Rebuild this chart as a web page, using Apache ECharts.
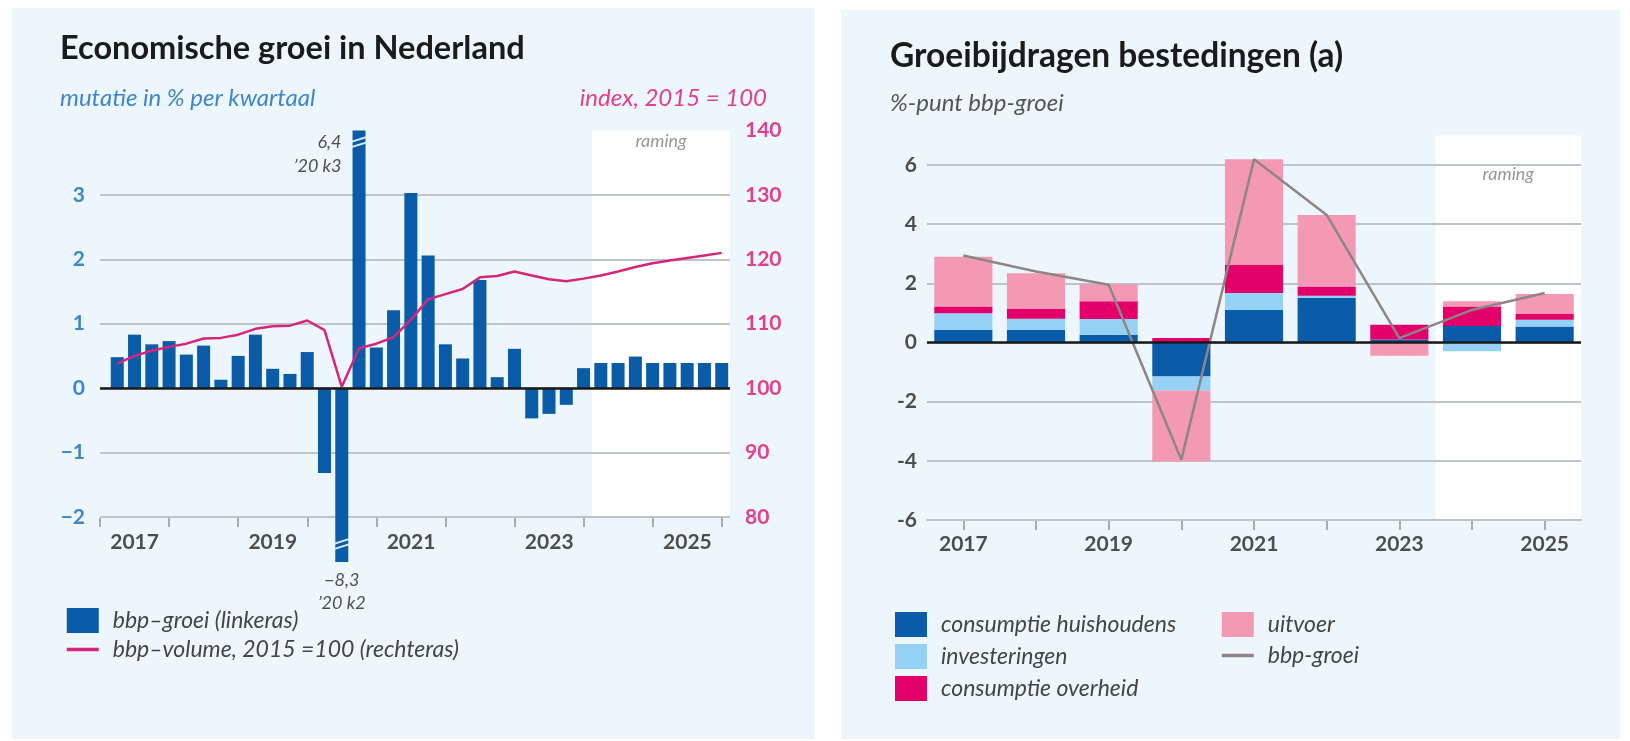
<!DOCTYPE html>
<html>
<head>
<meta charset="utf-8">
<script src="https://cdn.jsdelivr.net/npm/echarts@6/dist/echarts.min.js"></script>
<style>
html,body{margin:0;padding:0;background:#ffffff;}
#wrap{position:relative;width:1630px;height:741px;overflow:hidden;}
.panel{position:absolute;background:#edf6fd;}
#c{position:absolute;left:0;top:0;width:1630px;height:741px;}
</style>
</head>
<body>
<div id="wrap">
  <div class="panel" style="left:12px;top:8px;width:803px;height:731px;"></div>
  <div class="panel" style="left:841px;top:10px;width:779px;height:729px;"></div>
  <div id="c"></div>
</div>
<script>
// ---------- LEFT CHART DATA ----------
const quarters = [
  '2017K1','2017K2','2017K3','2017K4','2018K1','2018K2','2018K3','2018K4',
  '2019K1','2019K2','2019K3','2019K4','2020K1','2020K2','2020K3','2020K4',
  '2021K1','2021K2','2021K3','2021K4','2022K1','2022K2','2022K3','2022K4',
  '2023K1','2023K2','2023K3','2023K4','2024K1','2024K2','2024K3','2024K4',
  '2025K1','2025K2','2025K3','2025K4'
];
// bbp-groei, mutatie in % per kwartaal (linkeras)
const bbpGroei = [
  0.48, 0.83, 0.68, 0.73, 0.52, 0.66, 0.13, 0.50,
  0.83, 0.30, 0.22, 0.56, -1.32, -8.3, 6.4, 0.63,
  1.21, 3.03, 2.06, 0.68, 0.46, 1.68, 0.17, 0.61,
  -0.47, -0.40, -0.26, 0.31, 0.39, 0.39, 0.49, 0.39,
  0.39, 0.39, 0.39, 0.39
];
// bbp-volume, index 2015 = 100 (rechteras)
const bbpVolume = [
  103.8, 105.0, 105.8, 106.4, 106.9, 107.7, 107.8, 108.3,
  109.2, 109.6, 109.7, 110.5, 109.0, 100.2, 106.2, 106.9,
  107.9, 110.6, 113.8, 114.6, 115.4, 117.2, 117.4, 118.1,
  117.5, 116.9, 116.6, 117.0, 117.5, 118.1, 118.8, 119.4,
  119.8, 120.2, 120.6, 121.0
];
const yearLabelsLeft = ['2017','2018','2019','2020','2021','2022','2023','2024','2025'];
const ramingStartLeft = '2024K1';

// ---------- RIGHT CHART DATA ----------
const jaren = ['2017','2018','2019','2020','2021','2022','2023','2024','2025'];
const consumptieHuishoudens = [0.43, 0.43, 0.26, -1.15, 1.10, 1.50, 0.10, 0.56, 0.54];
const investeringen        = [0.56, 0.37, 0.53, -0.47, 0.57, 0.08, 0.00, -0.30, 0.23];
const consumptieOverheid   = [0.23, 0.33, 0.60, 0.15, 0.95, 0.31, 0.50, 0.66, 0.19];
const uitvoer              = [1.68, 1.21, 0.58, -2.40, 3.57, 2.42, -0.45, 0.17, 0.68];
const bbpGroeiJaar         = [2.94, 2.40, 1.95, -3.96, 6.19, 4.31, 0.15, 1.10, 1.67];
const ramingJaren = ['2024', '2025'];

// ---------- helpers ----------
const qpos = q => Number(q.slice(0, 4)) + Number(q.slice(5)) / 4; // quarter-end position in years
const comma = v => v.toFixed(1).replace('.', ',').replace('-', '\u2212');

const FONT = 'Lato';
const GRID_COLOR = '#bcc3ca';
const DARK_BLUE = '#0a5ca9';
const LIGHT_BLUE = '#95d1f5';
const MAGENTA = '#e3006b';
const PINK = '#f499b3';
const LINE_PINK = '#d6267b';
const LINE_GRAY = '#8d8586';

const breakPath = 'path://M0,7 L20,0 L20,3 L0,10 Z M0,15 L20,8 L20,11 L0,18 Z';

const i63 = quarters.indexOf('2020K3');
const i82 = quarters.indexOf('2020K2');

const chart = echarts.init(document.getElementById('c'), null, {renderer: 'canvas'});

const labelBase = {fontFamily: FONT, fontSize: 21, fontWeight: 'bold'};
const legendText = {fontFamily: FONT, fontStyle: 'italic', fontSize: 23, color: '#454545', padding: [0, 0, 0, 9]};
const lineLegendItem = (name, color) => ({
  name: name,
  itemStyle: {opacity: 0},
  lineStyle: {color: color, width: 3.5, opacity: 1}
});

const option = {
  backgroundColor: 'transparent',
  animation: false,
  title: [
    {text: 'Economische groei in Nederland', left: 60, top: 32, padding: 0,
     textStyle: {fontFamily: FONT, fontWeight: 'bold', fontSize: 32.5, color: '#1b1b1b'}},
    {text: 'mutatie in % per kwartaal', left: 60, top: 86, padding: 0,
     textStyle: {fontFamily: FONT, fontStyle: 'italic', fontWeight: 'normal', fontSize: 24, color: '#3f86c9'}},
    {text: 'index, 2015 = 100', right: 863, top: 86, padding: 0,
     textStyle: {fontFamily: FONT, fontStyle: 'italic', fontWeight: 'normal', fontSize: 24, color: '#e0408f'}},
    {text: 'Groeibijdragen bestedingen (a)', left: 890, top: 39, padding: 0,
     textStyle: {fontFamily: FONT, fontWeight: 'bold', fontSize: 33.5, color: '#1b1b1b'}},
    {text: '%-punt bbp-groei', left: 890, top: 91, padding: 0,
     textStyle: {fontFamily: FONT, fontStyle: 'italic', fontWeight: 'normal', fontSize: 24, color: '#555555'}}
  ],
  legend: [
    {data: [{name: 'bbp\u2013groei (linkeras)', icon: 'rect'}, lineLegendItem('bbp\u2013volume, 2015 =100 (rechteras)', LINE_PINK)],
     orient: 'vertical', left: 60, top: 603, itemWidth: 32, itemHeight: 25, itemGap: 5,
     selectedMode: false, textStyle: legendText},
    {data: [{name: 'consumptie huishoudens', icon: 'rect'}, {name: 'investeringen', icon: 'rect'}, {name: 'consumptie overheid', icon: 'rect'}],
     orient: 'vertical', left: 890, top: 607, itemWidth: 32, itemHeight: 25, itemGap: 7,
     selectedMode: false, textStyle: legendText},
    {data: [{name: 'uitvoer', icon: 'rect'}, lineLegendItem('bbp-groei', LINE_GRAY)],
     orient: 'vertical', left: 1215, top: 607, itemWidth: 32, itemHeight: 25, itemGap: 7,
     selectedMode: false, textStyle: legendText}
  ],
  grid: [
    {left: 100, width: 630, top: 130.5, height: 431.5},
    {left: 100, width: 622, top: 130.5, height: 387.5},
    {left: 927, width: 654, top: 135.4, height: 384.6}
  ],
  xAxis: [
    {gridIndex: 0, type: 'value', min: 2017, max: 2026.12, show: false},
    {gridIndex: 1, type: 'category', data: yearLabelsLeft, boundaryGap: true,
     axisLine: {show: false},
     axisTick: {show: true, interval: 0, length: 9, lineStyle: {color: '#8e959c', width: 1.5}},
     axisLabel: Object.assign({interval: 1, margin: 14, color: '#4d4d4d'}, labelBase)},
    {gridIndex: 2, type: 'category', data: jaren, boundaryGap: true,
     axisLine: {show: true, onZero: false, lineStyle: {color: GRID_COLOR, width: 2}},
     axisTick: {show: false, interval: 0, alignWithLabel: false},
     axisLabel: Object.assign({interval: 1, margin: 14, color: '#4d4d4d'}, labelBase)},
    {gridIndex: 2, type: 'category', data: jaren, boundaryGap: true, position: 'bottom',
     axisLine: {show: false, onZero: false},
     axisTick: {show: true, interval: 0, alignWithLabel: true, length: 10, lineStyle: {color: '#8e959c', width: 1.5}},
     axisLabel: {show: false}}
  ],
  yAxis: [
    {gridIndex: 0, type: 'value', min: -2.7, max: 4, splitNumber: 7, position: 'left', z: 2,
     axisLine: {show: false}, axisTick: {show: false},
     splitLine: {show: true, showMinLine: false, showMaxLine: false, lineStyle: {color: GRID_COLOR, width: 2}},
     axisLabel: Object.assign({margin: 15, color: '#3f86c9',
       formatter: v => (Number.isInteger(v) && v < 4) ? String(v).replace('-', '\u2212') : ''}, labelBase)},
    {gridIndex: 0, type: 'value', min: 73, max: 140, splitNumber: 7, position: 'right',
     axisLine: {show: false}, axisTick: {show: false}, splitLine: {show: false},
     axisLabel: Object.assign({margin: 15, color: '#e0408f',
       formatter: v => (v % 10 === 0) ? String(v) : ''}, labelBase)},
    {gridIndex: 1, type: 'value', min: 0, max: 1, show: false},
    {gridIndex: 2, type: 'value', min: -6, max: 7, interval: 2, z: 2,
     axisLine: {show: false}, axisTick: {show: false},
     splitLine: {show: true, showMaxLine: false, lineStyle: {color: GRID_COLOR, width: 2}},
     axisLabel: Object.assign({margin: 10, color: '#4d4d4d',
       formatter: v => (v === 7 ? '' : String(v))}, labelBase)}
  ],
  series: [
    {
      type: 'bar', name: 'bbp\u2013groei (linkeras)', xAxisIndex: 0, yAxisIndex: 0, z: 3,
      data: quarters.map((q, i) => [qpos(q), bbpGroei[i]]),
      barWidth: 13, itemStyle: {color: DARK_BLUE},
      markArea: {
        silent: true, z: 1,
        itemStyle: {color: '#ffffff'},
        label: {show: true, position: 'insideTop', distance: 2, formatter: 'raming',
                fontFamily: FONT, fontStyle: 'italic', fontSize: 18, color: '#9b9696'},
        data: [[{xAxis: qpos(ramingStartLeft) - 0.125, yAxis: -2}, {}]]
      },
      markLine: {
        silent: true, symbol: 'none', z: 5, label: {show: false},
        lineStyle: {color: '#1a1a1a', width: 2.5, type: 'solid'},
        data: [{yAxis: 0}]
      },
      markPoint: {
        silent: true, z: 6,
        data: [
          {coord: [qpos(quarters[i63]), 3.82], symbol: breakPath, symbolSize: [15, 12],
           itemStyle: {color: '#d9ebf9'}, label: {show: false}},
          {coord: [qpos(quarters[i82]), -2.42], symbol: breakPath, symbolSize: [15, 12],
           itemStyle: {color: '#d9ebf9'}, label: {show: false}},
          {coord: [qpos(quarters[i63]), 4], symbol: 'circle', symbolSize: 1, itemStyle: {color: 'rgba(0,0,0,0)'},
           label: {show: true, position: 'left', distance: 17, align: 'right', verticalAlign: 'top',
                   formatter: comma(bbpGroei[i63]) + '\n\u201920 k3', lineHeight: 24,
                   fontFamily: FONT, fontStyle: 'italic', fontSize: 18, color: '#505050'}},
          {coord: [qpos(quarters[i82]), -2.7], symbol: 'circle', symbolSize: 1, itemStyle: {color: 'rgba(0,0,0,0)'},
           label: {show: true, position: 'bottom', distance: 6, align: 'center',
                   formatter: comma(bbpGroei[i82]) + '\n\u201920 k2', lineHeight: 23,
                   fontFamily: FONT, fontStyle: 'italic', fontSize: 18, color: '#505050'}}
        ]
      }
    },
    {
      type: 'line', name: 'bbp\u2013volume, 2015 =100 (rechteras)', xAxisIndex: 0, yAxisIndex: 1, z: 4,
      data: quarters.map((q, i) => [qpos(q), bbpVolume[i]]),
      symbol: 'none', lineStyle: {color: LINE_PINK, width: 2.5}, itemStyle: {color: LINE_PINK}
    },
    {
      type: 'bar', name: 'consumptie huishoudens', xAxisIndex: 2, yAxisIndex: 3, stack: 'b', z: 3,
      data: consumptieHuishoudens, barWidth: '80%', itemStyle: {color: DARK_BLUE},
      markArea: {
        silent: true, z: 1,
        itemStyle: {color: '#ffffff'},
        label: {show: true, position: 'insideTop', distance: 30, formatter: 'raming',
                fontFamily: FONT, fontStyle: 'italic', fontSize: 18, color: '#9b9696'},
        data: [[{xAxis: ramingJaren[0]}, {xAxis: ramingJaren[1]}]]
      }
    },
    {
      type: 'bar', name: 'investeringen', xAxisIndex: 2, yAxisIndex: 3, stack: 'b', z: 3,
      data: investeringen, barWidth: '80%', itemStyle: {color: LIGHT_BLUE}
    },
    {
      type: 'bar', name: 'consumptie overheid', xAxisIndex: 2, yAxisIndex: 3, stack: 'b', z: 3,
      data: consumptieOverheid, barWidth: '80%', itemStyle: {color: MAGENTA}
    },
    {
      type: 'bar', name: 'uitvoer', xAxisIndex: 2, yAxisIndex: 3, stack: 'b', z: 3,
      data: uitvoer, barWidth: '80%', itemStyle: {color: PINK},
      markLine: {
        silent: true, symbol: 'none', z: 5, label: {show: false},
        lineStyle: {color: '#1a1a1a', width: 2.5, type: 'solid'},
        data: [{yAxis: 0}]
      }
    },
    {
      type: 'line', name: 'bbp-groei', xAxisIndex: 2, yAxisIndex: 3, z: 4,
      data: bbpGroeiJaar, symbol: 'none',
      lineStyle: {color: LINE_GRAY, width: 2.5}, itemStyle: {color: LINE_GRAY}
    }
  ]
};
chart.setOption(option);
</script>
</body>
</html>
